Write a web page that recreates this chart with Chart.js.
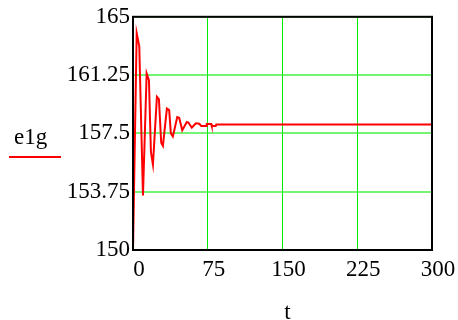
<!DOCTYPE html>
<html>
<head>
<meta charset="utf-8">
<script src="https://cdn.jsdelivr.net/npm/chart.js@4/dist/chart.umd.min.js"></script>
<style>
  html, body { margin: 0; padding: 0; background: #fff; }
  #wrap { position: relative; width: 458px; height: 320px; }
  .lbl { position: absolute; font-family: "Liberation Serif", "Times New Roman", serif; font-size: 23px; line-height: 23px; color: #000; white-space: nowrap; }
  #ylab { left: 14px; top: 125px; }
  #xlab { left: 267.5px; width: 40px; top: 300px; text-align: center; }
  #swatch { position: absolute; left: 9px; top: 156px; width: 52px; height: 2px; background: #ff0000; }
</style>
</head>
<body>
<div id="wrap">
  <canvas id="c"></canvas>
  <div id="ylab" class="lbl"></div>
  <div id="swatch"></div>
  <div id="xlab" class="lbl"></div>
</div>
<script>
// ---- data ----
const tValues = [0, 3.7, 6.3, 10, 13.7, 16, 18, 20, 24, 26, 28.3, 30, 34, 36.3, 38, 40,
                 44.4, 46.3, 49.4, 54, 55.5, 59, 63, 66.5, 68.5, 73.5, 74, 78.5, 79, 83, 83.5, 300];
const e1gValues = [150, 163.95, 163.1, 153.5, 161.35, 160.9, 156.3, 155.5, 159.85, 159.7, 156.9, 156.7,
                   159.1, 159.0, 157.5, 157.3, 158.55, 158.5, 157.7, 158.23, 158.2, 157.87, 158.15, 158.12,
                   157.98, 157.98, 158.1, 158.1, 157.98, 157.98, 158.08, 158.08];
const xTickValues = [0, 75, 150, 225, 300];
const xTickLabels = ['0', '75', '150', '225', '300'];
const yTickValues = [150, 153.75, 157.5, 161.25, 165];
const yTickLabels = ['150', '153.75', '157.5', '161.25', '165'];
const seriesName = 'e1g';
const xAxisName = 't';

document.getElementById('ylab').textContent = seriesName;
document.getElementById('xlab').textContent = xAxisName;

const points = tValues.map((t, i) => ({ x: t, y: e1gValues[i] }));
const FONT = "Liberation Serif";

const framePlugin = {
  id: 'frame',
  afterDraw(chart) {
    const { ctx, chartArea: a } = chart;
    ctx.save();
    ctx.strokeStyle = '#000';
    ctx.lineWidth = 2;
    ctx.strokeRect(a.left, a.top, a.right - a.left, a.bottom - a.top);
    ctx.restore();
  }
};

new Chart(document.getElementById('c'), {
  type: 'line',
  data: {
    datasets: [{
      label: seriesName,
      data: points,
      borderColor: '#ff0000',
      borderWidth: 2,
      pointRadius: 0,
      tension: 0,
      fill: false
    }]
  },
  options: {
    responsive: true,
    maintainAspectRatio: false,
    animation: false,
    layout: { padding: { top: 15, right: 26, left: 0, bottom: 0 } },
    plugins: { legend: { display: false }, tooltip: { enabled: false } },
    scales: {
      x: {
        type: 'linear',
        min: 0, max: 300,
        afterBuildTicks: s => { s.ticks = xTickValues.map(v => ({ value: v })); },
        afterFit: s => { s.height = 70; },
        ticks: {
          callback: (v) => xTickLabels[xTickValues.indexOf(v)],
          font: { family: FONT, size: 23 },
          color: '#000',
          padding: 6,
          labelOffset: 6,
          maxRotation: 0,
          autoSkip: false
        },
        grid: { color: 'rgb(0,235,0)', lineWidth: 1, drawTicks: false },
        border: { display: false }
      },
      y: {
        min: 150, max: 165,
        afterBuildTicks: s => { s.ticks = yTickValues.map(v => ({ value: v })); },
        afterFit: s => { s.width = 133; },
        ticks: {
          callback: (v) => yTickLabels[yTickValues.indexOf(v)],
          font: { family: FONT, size: 23 },
          color: '#000',
          padding: 3,
          autoSkip: false
        },
        grid: { color: 'rgba(0,235,0,0.55)', lineWidth: 2, drawTicks: false },
        border: { display: false }
      }
    }
  },
  plugins: [framePlugin]
});
</script>
</body>
</html>
